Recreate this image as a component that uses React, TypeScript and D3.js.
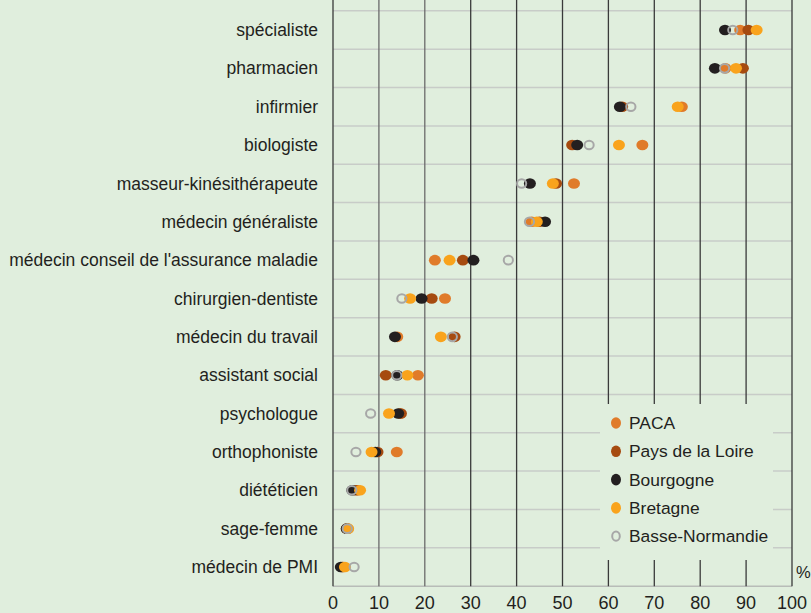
// App.tsx
// Dot plot: share of professionals per profession, by region.
import React from 'react';
import { scaleLinear, scalePoint } from 'd3';

const categories = [
  'spécialiste',
  'pharmacien',
  'infirmier',
  'biologiste',
  'masseur-kinésithérapeute',
  'médecin généraliste',
  "médecin conseil de l'assurance maladie",
  'chirurgien-dentiste',
  'médecin du travail',
  'assistant social',
  'psychologue',
  'orthophoniste',
  'diététicien',
  'sage-femme',
  'médecin de PMI',
];

const paca = [88.7, 85.5, 76.0, 67.4, 52.5, 43.3, 22.2, 24.4, 14.0, 18.5, 14.6, 13.9, 5.4, 3.2, 2.2];
const paysDeLaLoire = [90.5, 89.3, 63.0, 52.1, 48.6, 45.0, 28.3, 21.5, 26.5, 11.5, 14.8, 9.7, 5.0, 3.0, 2.0];
const bourgogne = [85.4, 83.2, 62.5, 53.2, 42.9, 46.2, 30.6, 19.3, 13.5, 14.0, 14.2, 9.2, 4.2, 3.0, 1.7];
const bretagne = [92.3, 87.8, 75.1, 62.3, 47.9, 44.4, 25.4, 16.8, 23.5, 16.2, 12.2, 8.4, 5.9, 3.3, 2.6];
const basseNormandie = [87.1, 85.3, 64.9, 55.8, 41.1, 42.8, 38.2, 15.0, 26.0, 13.9, 8.2, 5.0, 4.1, 3.1, 4.6];

const xTicks = [0, 10, 20, 30, 40, 50, 60, 70, 80, 90, 100];

const series = [
  { name: 'PACA', values: paca, color: '#e07b2a', ring: false },
  { name: 'Pays de la Loire', values: paysDeLaLoire, color: '#a64b10', ring: false },
  { name: 'Bourgogne', values: bourgogne, color: '#231f20', ring: false },
  { name: 'Bretagne', values: bretagne, color: '#f9a31c', ring: false },
  { name: 'Basse-Normandie', values: basseNormandie, color: '#a7a7a7', ring: true },
];

const W = 811;
const H = 613;
const BG = '#e0eedd';
const FONT = '"Liberation Sans", Arial, sans-serif';
const TXT = '#231f20';

export default function App() {
  const x = scaleLinear().domain([0, 100]).range([333, 792]);
  const y = scalePoint<string>().domain(categories).range([30, 567]);
  const step = y.step();
  const bottom = (y(categories[categories.length - 1]) as number) + step / 2;

  // legend box (covers the grid)
  const lg = { x: 600, y: 404, w: 173, h: 156 };

  return (
    <svg
      width={W}
      height={H}
      style={{ position: 'absolute', left: 0, top: 0, display: 'block', background: BG }}
    >
      <rect width={W} height={H} fill={BG} />

      {/* row separators */}
      {categories.map((c, i) => (
        <line
          key={'h' + i}
          x1={x(0)}
          x2={x(100)}
          y1={(y(c) as number) - step / 2}
          y2={(y(c) as number) - step / 2}
          stroke="#c8ccc8"
          strokeWidth={1.5}
        />
      ))}
      <line x1={x(0)} x2={x(100)} y1={bottom} y2={bottom} stroke="#b8bcb8" strokeWidth={1.5} />

      {/* vertical grid */}
      {xTicks.map((t) => (
        <line
          key={'v' + t}
          x1={x(t)}
          x2={x(t)}
          y1={0}
          y2={bottom}
          stroke={t === 10 || t === 20 ? '#6a6a6a' : '#3a3a3a'}
          strokeWidth={1.3}
        />
      ))}

      {/* category labels */}
      {categories.map((c) => (
        <text
          key={c}
          x={318}
          y={y(c) as number}
          dy="0.35em"
          textAnchor="end"
          fontFamily={FONT}
          fontSize={17.5}
          fill={TXT}
        >
          {c}
        </text>
      ))}

      {/* dots */}
      {series.map((s) => (
        <g key={s.name}>
          {s.values.map((v, i) =>
            s.ring ? (
              <ellipse
                key={i}
                cx={x(v)}
                cy={y(categories[i]) as number}
                rx={4.6}
                ry={4.3}
                fill="none"
                stroke={s.color}
                strokeWidth={2}
              />
            ) : (
              <ellipse
                key={i}
                cx={x(v)}
                cy={y(categories[i]) as number}
                rx={6}
                ry={5.3}
                fill={s.color}
              />
            ),
          )}
        </g>
      ))}

      {/* legend */}
      <rect x={lg.x} y={lg.y} width={lg.w} height={lg.h} fill={BG} />
      {series.map((s, i) => {
        const ly = 423 + i * 28.3;
        return (
          <g key={'lg' + s.name}>
            {s.ring ? (
              <ellipse cx={616} cy={ly} rx={3.8} ry={4.6} fill="none" stroke={s.color} strokeWidth={2} />
            ) : (
              <ellipse cx={616} cy={ly} rx={5} ry={5.8} fill={s.color} />
            )}
            <text x={629} y={ly} dy="0.35em" fontFamily={FONT} fontSize={17.4} fill={TXT}>
              {s.name}
            </text>
          </g>
        );
      })}

      {/* x axis labels */}
      {xTicks.map((t) => (
        <text
          key={'t' + t}
          x={x(t)}
          y={603}
          dy="0.35em"
          textAnchor="middle"
          fontFamily={FONT}
          fontSize={18}
          fill={TXT}
        >
          {t}
        </text>
      ))}
      <text x={796} y={572} dy="0.35em" fontFamily={FONT} fontSize={16.5} fill={TXT}>
        %
      </text>
    </svg>
  );
}
